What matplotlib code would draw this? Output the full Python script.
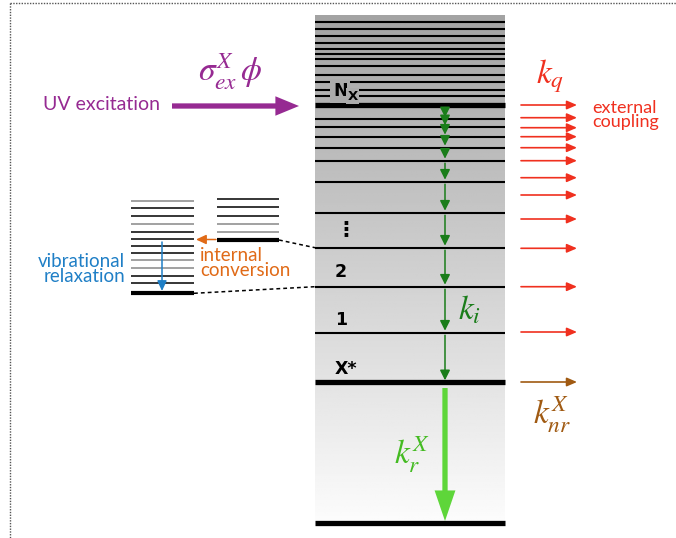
import numpy as np
import matplotlib.pyplot as plt

plt.rcParams['font.family'] = ['Lato', 'DejaVu Sans']
plt.rcParams['mathtext.fontset'] = 'stix'

# energy levels of the main ladder (pixel rows, top -> bottom)
upper_levels = [21.7, 29.3, 36, 43.3, 49.3, 54, 59.3, 66, 75, 81.7, 90, 96]
ladder_levels = [105, 119.3, 127.3, 136.7, 147.7, 160.7, 181.7, 212.7, 247.7, 286.7, 332.7, 382.3]
ground_level = 523.3
thick_levels = [105, 382.3]

# quenching (external coupling) arrow rows
kq_rows = [105, 117.7, 127.7, 136.7, 147.7, 160.7, 177.7, 195, 219, 248.3, 286.7, 332]
knr_row = 382

# side diagrams
vib_levels = [200.7, 208.3, 216, 224, 231.7, 239.3, 245.7, 252.7, 260, 268.3, 275.7, 283.3]
vib_gray = [True, False, False, True, False, False, False, False, True, True, False, False]
vib_bottom = 293.3
ic_levels = [199, 207.3, 215.7, 224, 231.7]
ic_gray = [False, False, False, True, True]
ic_bottom = 240

level_labels = ['⋮', '2', '1', 'X*']
level_label_rows = [229, 272, 320, 369]

fig = plt.figure(figsize=(6.76, 5.38), dpi=100)
ax = fig.add_axes([0, 0, 1, 1])
ax.set_xlim(0, 676)
ax.set_ylim(538, 0)
ax.axis('off')

# dotted frame
ax.plot([10, 676], [3, 3], color='#555555', lw=1, ls=(0, (1, 1)))
ax.plot([10, 10], [3, 538], color='#555555', lw=1, ls=(0, (1, 1)))

# gray gradient column
col_l, col_r = 315, 505
grad = np.linspace(0.64, 0.99, 256)[:, None]
ax.imshow(grad, cmap='gray', vmin=0, vmax=1, aspect='auto',
          extent=(col_l, col_r, 525, 15), zorder=1)

for y in upper_levels + ladder_levels:
    ax.plot([col_l, col_r], [y, y], color='black',
            lw=3.8 if y in thick_levels else 1.5, zorder=2, solid_capstyle='butt')
ax.plot([col_l, col_r], [ground_level, ground_level], color='black', lw=3.8, zorder=2,
        solid_capstyle='butt')

# N_X label
ax.text(333, 91, 'N', fontsize=12.5, fontweight='bold', family='DejaVu Sans',
        ha='left', va='center', zorder=3,
        bbox=dict(boxstyle='square,pad=0.15', fc='#ababab', ec='none'))
ax.text(347.5, 96, 'X', fontsize=9.5, fontweight='bold', family='DejaVu Sans',
        ha='left', va='center', zorder=4,
        bbox=dict(boxstyle='square,pad=0.1', fc='#ababab', ec='none'))

for lab, y in zip(level_labels, level_label_rows):
    ax.text(335, y, lab, fontsize=15 if lab == '⋮' else 12.5, fontweight='bold',
            family='DejaVu Sans', ha='left', va='center', zorder=3)


def arrow(x0, y0, x1, y1, color, lw, hl, hw, z=5):
    ax.annotate('', xy=(x1, y1), xytext=(x0, y0), zorder=z,
                arrowprops=dict(arrowstyle='-|>,head_length=%g,head_width=%g' % (hl, hw),
                                color=color, lw=lw, shrinkA=0, shrinkB=0,
                                mutation_scale=10))


def fat_arrow(x0, y0, x1, y1, color, tw, hl, hw):
    ax.annotate('', xy=(x1, y1), xytext=(x0, y0), zorder=5,
                arrowprops=dict(arrowstyle='simple,head_length=%g,head_width=%g,tail_width=%g'
                                % (hl, hw, tw), fc=color, ec='none',
                                shrinkA=0, shrinkB=0, mutation_scale=1))


# internal decay cascade k_i
kx = 445
for ya, yb in zip(ladder_levels[:-1], ladder_levels[1:]):
    arrow(kx, ya + 2.5, kx, yb - 2, '#1a7d1a', 1.1, 0.6, 0.3)

# radiative decay
fat_arrow(445, 388, 445, 521, '#5ed63a', 3.8, 22, 15)

# external coupling
for y in kq_rows:
    arrow(521, y, 577, y, '#f0301f', 1.2, 0.6, 0.26)
arrow(521, knr_row, 577, knr_row, '#a05a12', 1.2, 0.6, 0.26)

# UV excitation arrow
fat_arrow(172, 106, 299, 106, '#962a92', 3.8, 17, 14)

# side diagrams
for y, g in zip(vib_levels, vib_gray):
    ax.plot([131, 194], [y, y], color='#888888' if g else 'black', lw=1.1,
            solid_capstyle='butt')
ax.plot([131, 194], [vib_bottom, vib_bottom], color='black', lw=3, solid_capstyle='butt')
for y, g in zip(ic_levels, ic_gray):
    ax.plot([217, 279], [y, y], color='#888888' if g else 'black', lw=1.1,
            solid_capstyle='butt')
ax.plot([217, 279], [ic_bottom, ic_bottom], color='black', lw=3, solid_capstyle='butt')

ax.plot([279, 315], [ic_bottom, 247.7], color='black', lw=1.1, ls=(0, (2.5, 2)))
ax.plot([194, 315], [vib_bottom, 286.7], color='black', lw=1.1, ls=(0, (2.5, 2)))

arrow(162, 242, 162, 291, '#1f7fc6', 1.1, 0.6, 0.28)
arrow(216, 239.5, 196, 239.5, '#e06a17', 1.1, 0.6, 0.28)

# texts
ax.text(160, 104, 'UV excitation', color='#962a92', fontsize=14, ha='right', va='center')
ax.text(230, 72, r'$\sigma_{ex}^{X}\,\phi$', color='#962a92', fontsize=24, ha='center',
        va='center')
ax.text(550, 76, r'$k_q$', color='#f0301f', fontsize=24, ha='center', va='center')
ax.text(592, 115, 'external\ncoupling', color='#f0301f', fontsize=13, ha='left',
        va='center', linespacing=0.8)
ax.text(125, 269, 'vibrational\nrelaxation', color='#1f7fc6', fontsize=13.5, ha='right',
        va='center', linespacing=0.8)
ax.text(200, 263, 'internal\nconversion', color='#e06a17', fontsize=13.5, ha='left',
        va='center', linespacing=0.8)
ax.text(469, 310, r'$k_i$', color='#1a7d1a', fontsize=24, ha='center', va='center')
ax.text(412, 455, r'$k_r^X$', color='#44bb22', fontsize=24, ha='center', va='center')
ax.text(552, 415, r'$k_{nr}^X$', color='#a05a12', fontsize=24, ha='center', va='center')

fig.savefig('out.png', dpi=100, facecolor='white')
